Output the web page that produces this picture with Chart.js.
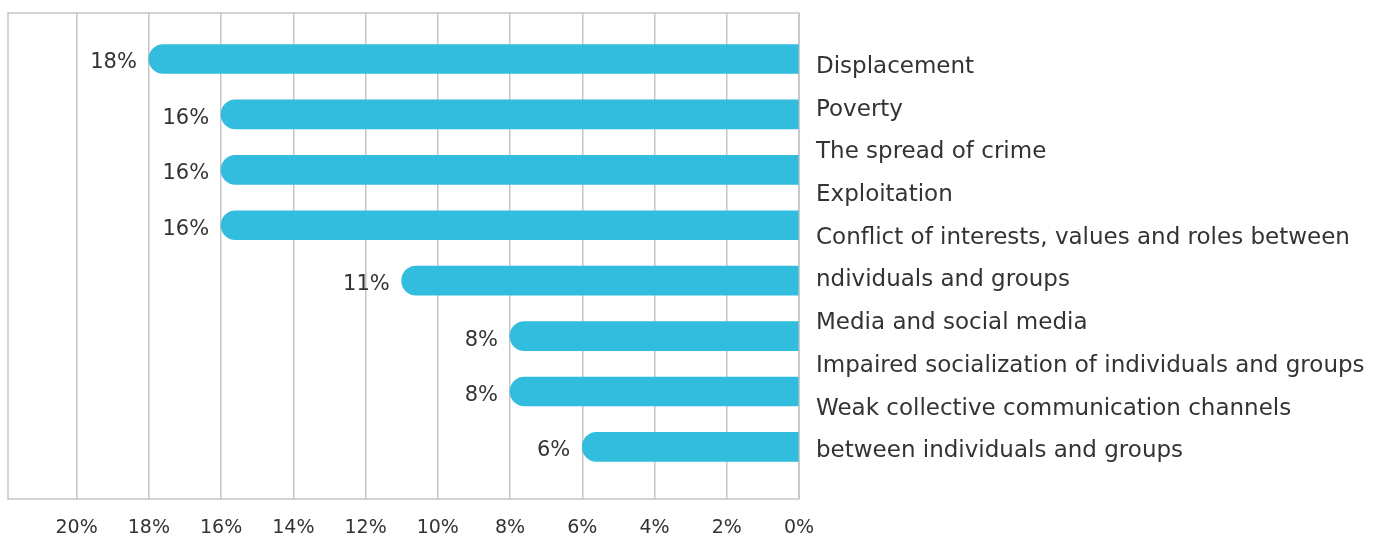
<!DOCTYPE html>
<html>
<head>
<meta charset="utf-8">
<script src="https://cdn.jsdelivr.net/npm/chart.js@4"></script>
<style>
  html, body { margin: 0; padding: 0; background: #ffffff; }
  #grafico { display: block; }
</style>
</head>
<body>
<canvas id="grafico" width="1387" height="541"></canvas>
<script>
// datos de las barras (porcentajes)
var categorias = [
  "Displacement",
  "Poverty",
  "The spread of crime",
  "Exploitation",
  "Conflict of interests, values and roles between ndividuals and groups",
  "Media and social media",
  "Impaired socialization of individuals and groups",
  "Weak collective communication channels between individuals and groups"
];
var valores = [18, 16, 16, 16, 11, 8, 8, 6];

// textos de la derecha, tal cual se leen línea a línea
var lineasTexto = [
  "Displacement",
  "Poverty",
  "The spread of crime",
  "Exploitation",
  "Conflict of interests, values and roles between",
  "ndividuals and groups",
  "Media and social media",
  "Impaired socialization of individuals and groups",
  "Weak collective communication channels",
  "between individuals and groups"
];

// marcas del eje x
var marcasX = [0, 2, 4, 6, 8, 10, 12, 14, 16, 18, 20];

var colorBarra = "#32bcde";
var colorTexto = "#333333";
var colorRejilla = "#c6c6c6";
var fuente = "'DejaVu Sans', sans-serif";

// marco gris alrededor del área del gráfico
var marco = {
  id: "marco",
  beforeDatasetsDraw: function (chart) {
    var a = chart.chartArea;
    var ctx = chart.ctx;
    ctx.save();
    ctx.strokeStyle = colorRejilla;
    ctx.lineWidth = 1.5;
    ctx.strokeRect(a.left, a.top, a.right - a.left, a.bottom - a.top);
    ctx.restore();
  }
};

// porcentaje a la izquierda de cada barra
var etiquetasValor = {
  id: "etiquetasValor",
  afterDatasetsDraw: function (chart) {
    var ctx = chart.ctx;
    var meta = chart.getDatasetMeta(0);
    ctx.save();
    ctx.font = "21px " + fuente;
    ctx.fillStyle = colorTexto;
    ctx.textAlign = "right";
    ctx.textBaseline = "middle";
    meta.data.forEach(function (barra, i) {
      ctx.fillText(valores[i] + "%", barra.x - 12, barra.y + 4);
    });
    ctx.restore();
  }
};

// lista de textos a la derecha del gráfico
var textoDerecha = {
  id: "textoDerecha",
  afterDraw: function (chart) {
    var a = chart.chartArea;
    var ctx = chart.ctx;
    ctx.save();
    ctx.font = "23px " + fuente;
    ctx.fillStyle = colorTexto;
    ctx.textAlign = "left";
    ctx.textBaseline = "middle";
    lineasTexto.forEach(function (linea, i) {
      ctx.fillText(linea, a.right + 17, a.top + 54 + i * 42.7);
    });
    ctx.restore();
  }
};

function cargaGrafico() {
  var puntos = valores.map(function (v, i) {
    return { x: v, y: i };
  });

  var config = {
    type: "bar",
    data: {
      labels: categorias,
      datasets: [{
        data: puntos,
        backgroundColor: colorBarra,
        barThickness: 29,
        borderRadius: 15
      }]
    },
    plugins: [marco, etiquetasValor, textoDerecha],
    options: {
      indexAxis: "y",
      responsive: false,
      animation: false,
      layout: {
        padding: { left: 8, right: 588, top: 13, bottom: 0 }
      },
      plugins: {
        legend: { display: false },
        tooltip: { enabled: false }
      },
      scales: {
        x: {
          type: "linear",
          reverse: true,
          min: 0,
          max: 21.9,
          afterBuildTicks: function (eje) {
            eje.ticks = marcasX.map(function (v) { return { value: v }; });
          },
          afterFit: function (eje) {
            eje.height = 42;
          },
          ticks: {
            padding: 18,
            color: colorTexto,
            font: { family: fuente, size: 19 },
            callback: function (v) { return v + "%"; }
          },
          grid: {
            color: colorRejilla,
            lineWidth: 1.5,
            drawTicks: false
          },
          border: { display: false }
        },
        y: {
          type: "linear",
          display: false,
          offset: false,
          reverse: true,
          min: -0.83,
          max: 7.94
        }
      }
    }
  };

  new Chart(document.getElementById("grafico").getContext("2d"), config);
}

cargaGrafico();
</script>
</body>
</html>
